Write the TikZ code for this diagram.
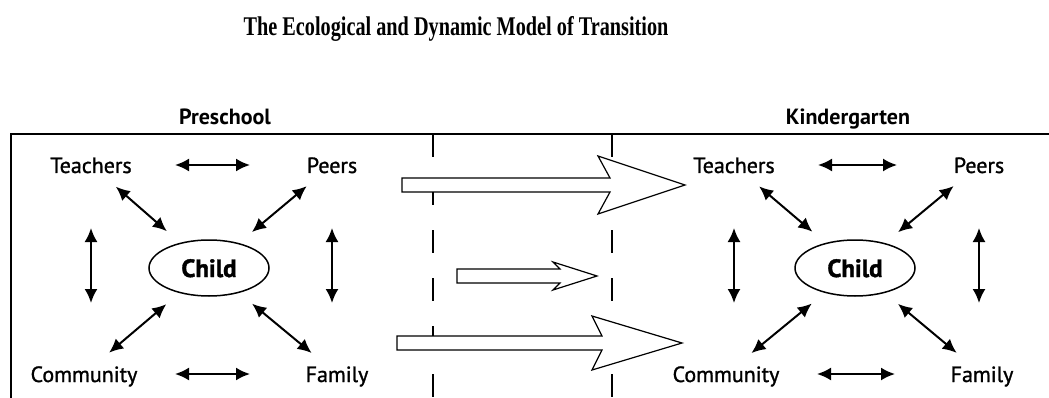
\documentclass[tikz,border=0pt]{standalone}
\usepackage{fontspec}
\setmainfont{PT Sans}
\newfontfamily\labelfont[FakeBold=1.2]{PT Sans}
\newfontfamily\heavyfont[BoldFeatures={FakeBold=1.5}]{PT Sans}
\newfontfamily\titlefont[FakeStretch=0.75]{Liberation Serif}
\usetikzlibrary{arrows.meta,positioning,shapes.geometric}

\tikzset{
  actor/.style={inner sep=0pt, text height=16pt, text depth=0pt, font=\labelfont\fontsize{22}{24}\selectfont},
  stage/.style={inner sep=0pt, text height=16pt, text depth=0pt, font=\fontsize{22}{24}\selectfont\bfseries},
  childnode/.style={ellipse, draw, line width=1.5pt, minimum width=120pt, minimum height=56pt,
    inner sep=0pt, text height=18pt, text depth=0pt, font=\heavyfont\fontsize{25}{27}\selectfont\bfseries},
  link/.style={arrows={Latex[length=14pt,width=13pt]-Latex[length=14pt,width=13pt]}, line width=2pt},
  spoke/.style={link, shorten <=33pt, shorten >=56pt},
  toplink/.style={link, shorten <=84pt, shorten >=82pt},
  lowlink/.style={link, shorten <=91pt, shorten >=87pt},
  sidelink/.style={link, shorten <=63pt, shorten >=71pt},
  move/.style={draw, line width=1.2pt, fill=white, line join=miter},
  border/.style={dash pattern=on 23pt off 25pt, line width=1.8pt},
}

\begin{document}
\begin{tikzpicture}[x=1pt, y=-1pt]
  \useasboundingbox (0,0) rectangle (1049,398);

  % Title and frame
  \node[anchor=base, inner sep=0pt, font=\titlefont\fontsize{27}{29}\selectfont\bfseries] (title) at (456,36)
    {The Ecological and Dynamic Model of Transition};
  \draw[line width=2pt] (1049,134) -- (11,134) -- (11,400);
  \draw[border] (433,134) -- (433,400);
  \draw[border] (612,134) -- (612,400);

  % Stage labels
  \node[stage] (pre) at (225,117) {Preschool};
  \node[stage] (kin) at (848,117) {Kindergarten};

  % Preschool vertices
  \node[actor] (preT) at (91,165) {Teachers};
  \node[actor] (preP) at (332,165) {Peers};
  \node[childnode] (preC) at (209,268) {Child};
  \node[actor] (preCo) at (84,374) {Community};
  \node[actor] (preF) at (337,374) {Family};

  % Kindergarten vertices
  \node[actor] (kinT) at (734,165) {Teachers};
  \node[actor] (kinP) at (979,165) {Peers};
  \node[childnode] (kinC) at (855,268) {Child};
  \node[actor] (kinCo) at (726,374) {Community};
  \node[actor] (kinF) at (982,374) {Family};

  % Preschool edges
  \draw[toplink] (preT.center) -- (preP.center);
  \draw[lowlink] (preCo.center) -- (preF.center);
  \draw[sidelink] (preT.center) -- (preT.center |- preCo.center);
  \draw[sidelink] (preP.center) -- (preP.center |- preF.center);
  \draw[spoke] (preT.center) -- (preC.center);
  \draw[spoke] (preP.center) -- (preC.center);
  \draw[spoke] (preCo.center) -- (preC.center);
  \draw[spoke] (preF.center) -- (preC.center);

  % Kindergarten edges
  \draw[toplink] (kinT.center) -- (kinP.center);
  \draw[lowlink] (kinCo.center) -- (kinF.center);
  \draw[sidelink] (kinT.center) -- (kinT.center |- kinCo.center);
  \draw[sidelink] (kinP.center) -- (kinP.center |- kinF.center);
  \draw[spoke] (kinT.center) -- (kinC.center);
  \draw[spoke] (kinP.center) -- (kinC.center);
  \draw[spoke] (kinCo.center) -- (kinC.center);
  \draw[spoke] (kinF.center) -- (kinC.center);

  % Transition arrows
  \draw[move] (402,178) -- (610,178) -- (598,156) -- (685,185) -- (598,214) -- (610,192) -- (402,192) -- cycle;
  \draw[move] (457,269) -- (560,269) -- (553,262) -- (597,276) -- (553,290) -- (560,283) -- (457,283) -- cycle;
  \draw[move] (397,336) -- (602,336) -- (592,316) -- (682,343) -- (592,370) -- (602,350) -- (397,350) -- cycle;
\end{tikzpicture}
\end{document}
